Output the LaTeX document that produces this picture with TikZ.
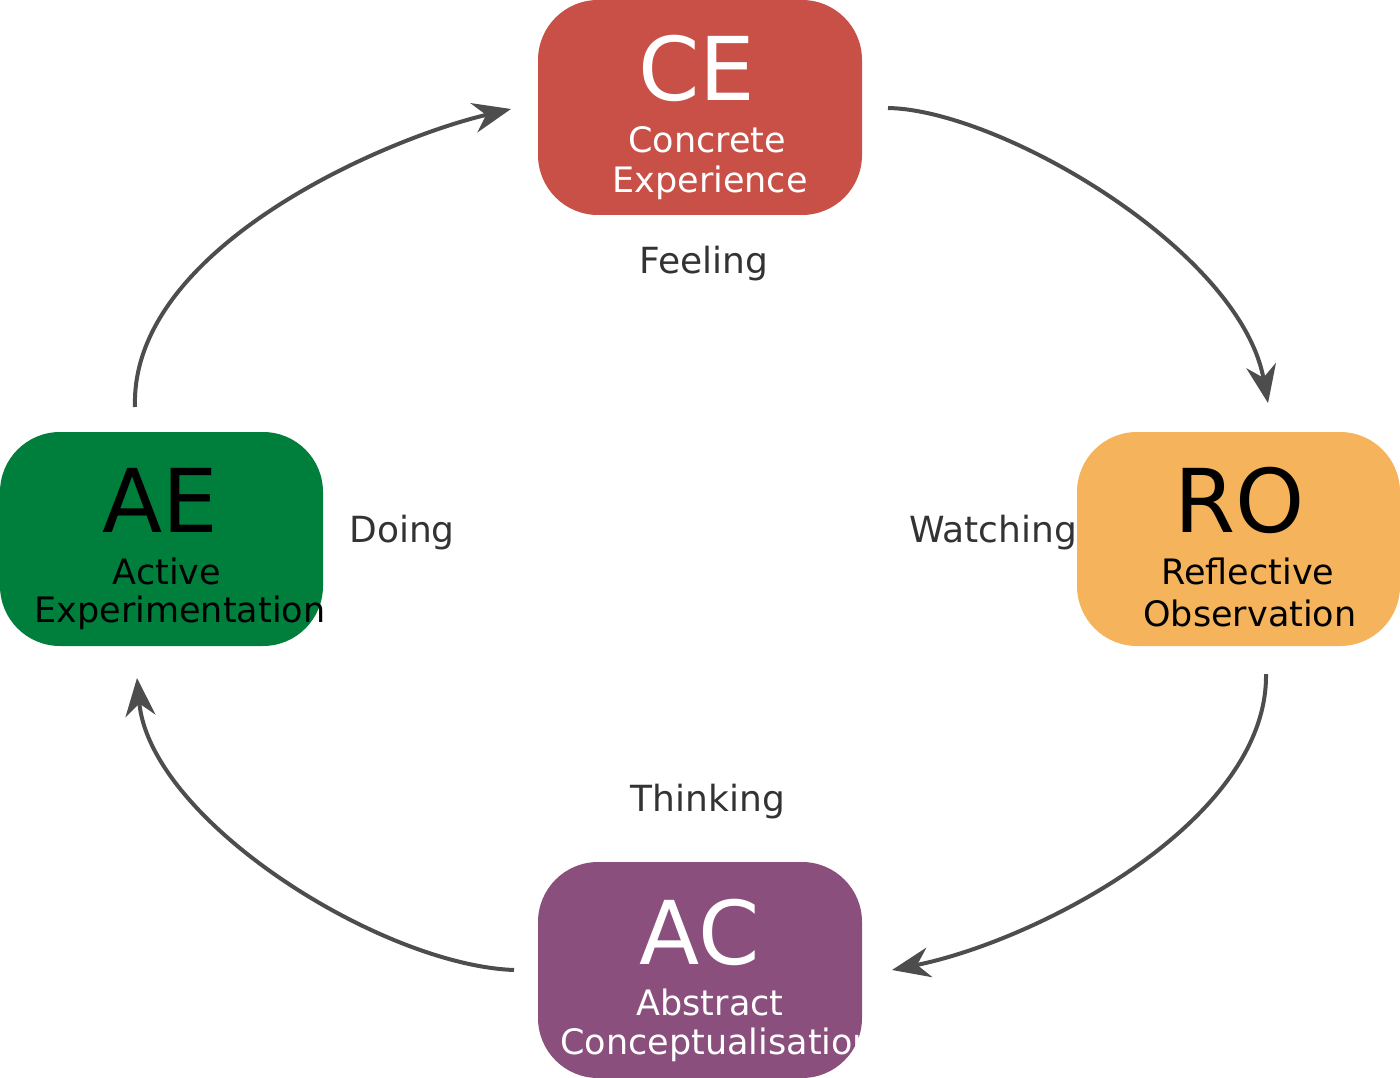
\documentclass[tikz,border=0pt]{standalone}
\usepackage{fontspec}
\setmainfont{DejaVu Sans}
\usetikzlibrary{arrows.meta}
\definecolor{ce}{HTML}{C85046}
\definecolor{ro}{HTML}{F5B35B}
\definecolor{ae}{HTML}{007F3C}
\definecolor{ac}{HTML}{8A4F7D}
\definecolor{arr}{HTML}{4D4D4D}
\definecolor{lab}{HTML}{333333}
\begin{document}
\begin{tikzpicture}[x=1pt,y=-1pt,
  box/.style={draw=none,rounded corners=60pt},
  big/.style={font=\fontsize{88}{88}\selectfont},
  small/.style={font=\fontsize{35}{35}\selectfont},
  lbl/.style={font=\fontsize{36}{36}\selectfont,text=lab},
  cyc/.style={draw=arr,line width=4pt,-{Stealth[length=38pt,width=30pt]}}]
\useasboundingbox (0,0) rectangle (1400,1078);
\fill[ce,rounded corners=60pt] (538,0) rectangle (862,215);
\fill[ro,rounded corners=60pt] (1077,432) rectangle (1400,646);
\fill[ae,rounded corners=60pt] (0,432) rectangle (323,646);
\fill[ac,rounded corners=60pt] (538,862) rectangle (862,1078);
\node[big,text=white] (ce) at (697,68) {CE};
\node[small,text=white] (ce1) at (707,140) {Concrete};
\node[small,text=white] (ce2) at (710,183) {Experience};
\node[big,text=black] (ae) at (160,500) {AE};
\node[small,text=black] (ae1) at (167,571) {Active};
\node[small,text=black] (ae2) at (180,613) {Experimentation};
\node[big,text=black] (ro) at (1240,500) {RO};
\node[small,text=black] (ro1) at (1248,571) {Reflective};
\node[small,text=black] (ro2) at (1250,613) {Observation};
\node[big,text=white] (ac) at (700,932) {AC};
\node[small,text=white] (ac1) at (710,1002) {Abstract};
\begin{scope}
\clip[rounded corners=60pt] (538,862) rectangle (862,1078);
\node[small,text=white,anchor=west] (ac2) at (557,1045) {Conceptualisation};
\end{scope}
\node[lbl] (f) at (704,264) {Feeling};
\node[lbl] (d) at (402,533) {Doing};
\node[lbl] (w) at (993,533) {Watching};
\node[lbl] (t) at (708,802) {Thinking};
\coordinate (a1) at (888,108); \coordinate (b1) at (1268,403);
\coordinate (a2) at (1266,674); \coordinate (b2) at (892,970);
\coordinate (a3) at (514,970); \coordinate (b3) at (137,678);
\coordinate (a4) at (135,407); \coordinate (b4) at (511,109);
\draw[cyc] (a1) .. controls (1000,110) and (1240,250) .. (b1);
\draw[cyc] (a2) .. controls (1268,820) and (1040,940) .. (b2);
\draw[cyc] (a3) .. controls (380,965) and (150,820) .. (b3);
\draw[cyc] (a4) .. controls (130,250) and (380,140) .. (b4);
\end{tikzpicture}
\end{document}
